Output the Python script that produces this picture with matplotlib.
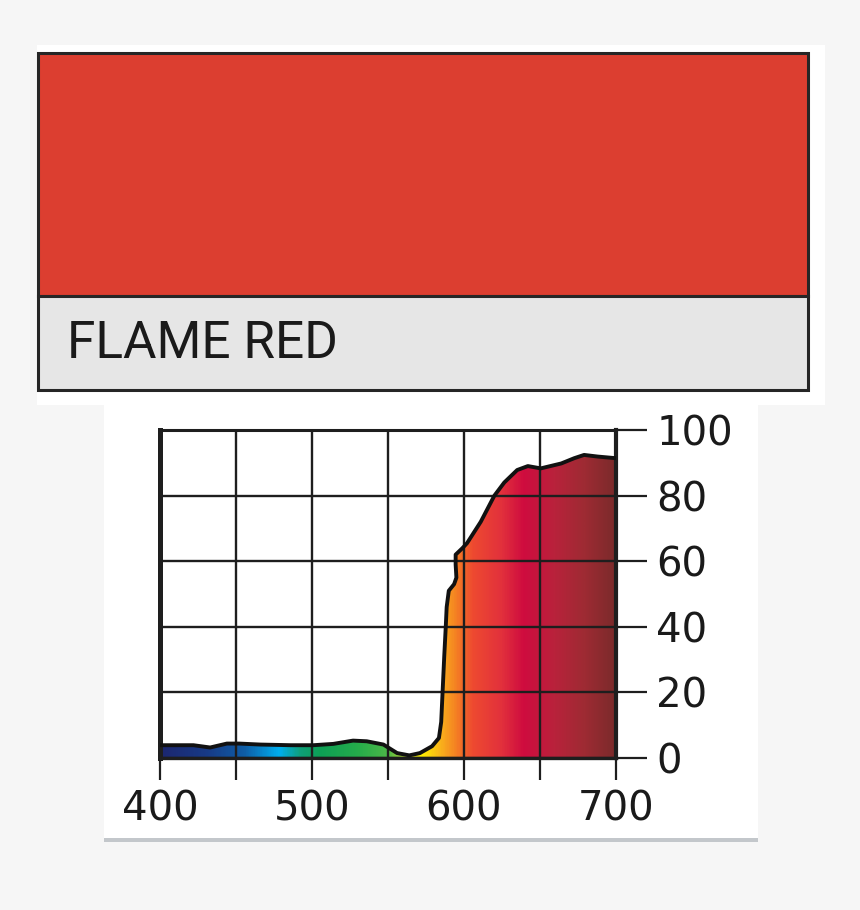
import numpy as np
import matplotlib
matplotlib.use("Agg")
import matplotlib.pyplot as plt
from matplotlib.patches import Rectangle
from matplotlib.colors import LinearSegmentedColormap

# transmission curve
wavelength = [400, 422, 433, 444, 452, 466, 486, 501, 514, 527, 536, 547, 556, 564,
              571, 579, 583.5, 585, 586, 587, 588, 588.6, 590, 593.5, 595, 594.5,
              594.5, 599, 602, 611, 620, 626.5, 635, 642, 650.5, 664, 672.5, 679,
              688, 700]
transmission = [3.9, 3.9, 3.2, 4.4, 4.4, 4.1, 3.9, 3.9, 4.3, 5.3, 5.1, 4.1, 1.5, 0.8,
                1.5, 3.6, 6.1, 11, 21, 31, 40, 46, 51, 53, 55, 59,
                62, 64, 65.5, 72, 80, 84, 87.8, 89, 88.3, 89.8, 91.4, 92.4,
                91.9, 91.4]

x_ticks = [400, 500, 600, 700]
x_minor = [450, 550, 650]
y_ticks = [0, 20, 40, 60, 80, 100]
filter_name = "FLAME RED"

# spectrum colours under the curve
grad_wl = [400, 430, 455, 478, 492, 505, 530, 550, 563, 572, 585, 596, 606, 625, 640, 660, 680, 700]
grad_col = ["#1c2770", "#183a86", "#0f5da6", "#00aeef", "#0fa07a", "#0d9f55", "#25ac4b",
            "#4cb848", "#c8dc2a", "#fff200", "#f9b11b", "#f47b24", "#ee4a30", "#e2313c",
            "#cf0c3f", "#b9223b", "#9e2b33", "#7b2a2b"]

W, H = 860, 910
fig = plt.figure(figsize=(W / 100, H / 100), dpi=100)
fig.patch.set_facecolor("#f6f6f6")

# background panels in pixel coordinates
bg = fig.add_axes([0, 0, 1, 1])
bg.set_xlim(0, W)
bg.set_ylim(H, 0)
bg.axis("off")
bg.add_patch(Rectangle((37, 45), 788, 360, facecolor="white", edgecolor="none"))
bg.add_patch(Rectangle((104, 405), 654, 433, facecolor="white", edgecolor="none"))
bg.add_patch(Rectangle((104, 838), 654, 4, facecolor="#c3c7cb", edgecolor="none"))
bg.add_patch(Rectangle((38, 53), 770, 243, facecolor="#dc3e30", edgecolor="#262626", lw=2.2))
bg.add_patch(Rectangle((38, 296), 770, 94, facecolor="#e6e6e6", edgecolor="#262626", lw=2.2))
bg.text(67, 344, filter_name, fontsize=37, color="#1a1a1a", va="center", ha="left",
        family=["Liberation Sans Narrow", "Roboto", "DejaVu Sans"], fontstretch="condensed")

# chart
ax = fig.add_axes([160 / W, 1 - 758 / H, 456 / W, 328 / H])
ax.set_facecolor("white")
ax.set_xlim(400, 700)
ax.set_ylim(0, 100)

cmap = LinearSegmentedColormap.from_list(
    "spec", [((w - 400) / 300, c) for w, c in zip(grad_wl, grad_col)])
poly = ax.fill(wavelength + [700, 400], transmission + [0, 0], facecolor="none",
               edgecolor="none")[0]
img = ax.imshow(np.linspace(0, 1, 600).reshape(1, -1), cmap=cmap, aspect="auto",
                extent=[400, 700, 0, 100], zorder=1)
img.set_clip_path(poly)
ax.plot(wavelength, transmission, color="#111111", lw=2.8, zorder=3,
        solid_joinstyle="round")

ax.set_axisbelow(False)
ax.set_xticks(x_ticks)
ax.set_xticks(x_minor, minor=True)
ax.set_yticks(y_ticks)
ax.grid(True, which="both", color="#1e1e1e", lw=1.7)
ax.yaxis.tick_right()
ax.tick_params(axis="x", which="both", direction="out", length=16, width=1.6,
               color="#1e1e1e", pad=7, labelsize=29)
ax.tick_params(axis="y", direction="out", length=22, width=1.6, color="#1e1e1e",
               pad=7, labelsize=29)
for lab in ax.get_xticklabels() + ax.get_yticklabels():
    lab.set_color("#1a1a1a")
for side, lw in [("left", 3.6), ("bottom", 2.4), ("right", 3.0), ("top", 2.2)]:
    ax.spines[side].set_linewidth(lw)
    ax.spines[side].set_color("#1e1e1e")

fig.savefig("out.png", dpi=100, facecolor=fig.get_facecolor())
